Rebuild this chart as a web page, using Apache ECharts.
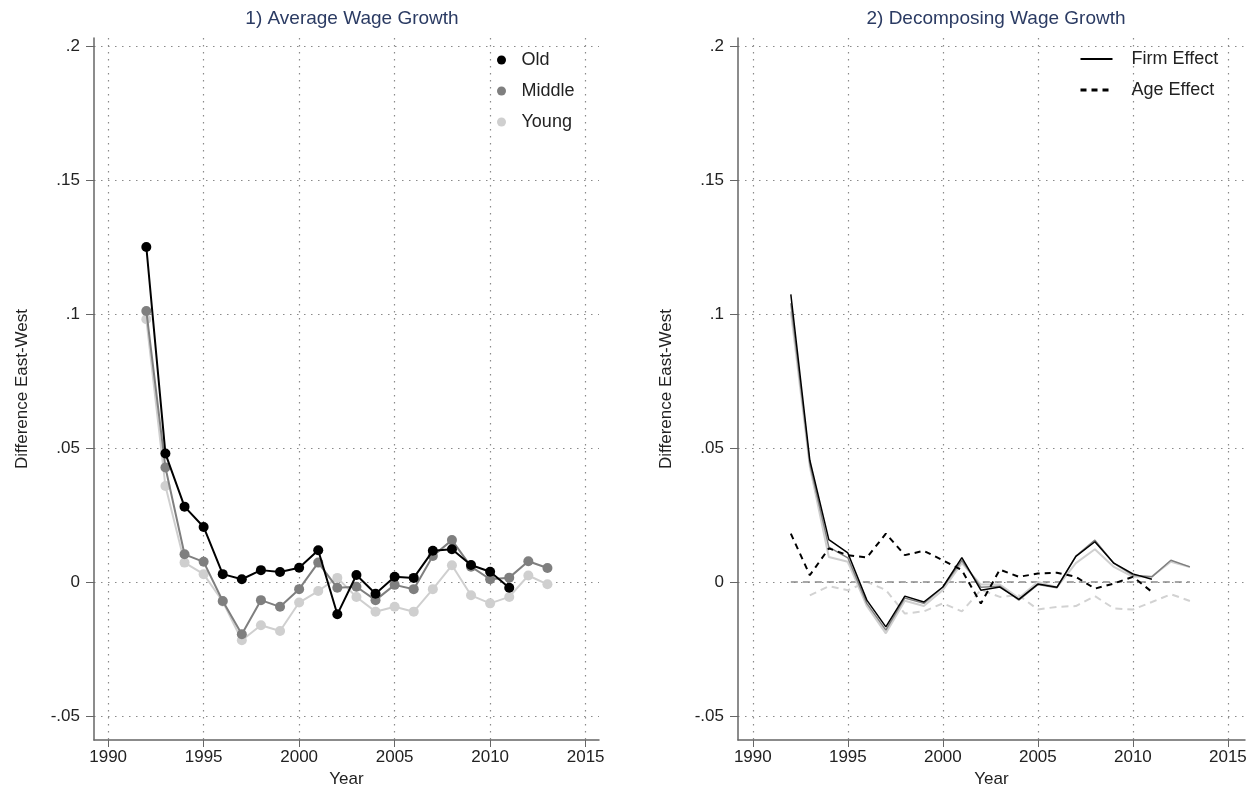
<!DOCTYPE html>
<html>
<head>
<meta charset="utf-8">
<script src="https://cdn.jsdelivr.net/npm/echarts@6/dist/echarts.min.js"></script>
<style>
  html, body { margin: 0; padding: 0; background: #fff; }
  #main { width: 1259px; height: 793px; }
</style>
</head>
<body>
<div id="main"></div>
<script>
// years on the x axis
var years = [1992, 1993, 1994, 1995, 1996, 1997, 1998, 1999, 2000, 2001, 2002,
             2003, 2004, 2005, 2006, 2007, 2008, 2009, 2010, 2011, 2012, 2013];
var xTicks = [1990, 1995, 2000, 2005, 2010, 2015];
var yTicks = [-0.05, 0, 0.05, 0.1, 0.15, 0.2];

// 1) average wage growth, difference east-west (old ends in 2011)
var wageOld = [0.125, 0.0479, 0.0281, 0.0205, 0.0029, 0.001, 0.0044, 0.0037, 0.0053, 0.0118,
               -0.0121, 0.0026, -0.0044, 0.0019, 0.0015, 0.0116, 0.0122, 0.0063, 0.0038, -0.0022];
var wageMiddle = [0.1011, 0.0427, 0.0103, 0.0075, -0.0071, -0.0195, -0.0068, -0.0093, -0.0027, 0.0072, -0.0022,
                  -0.0018, -0.0068, -0.0011, -0.0027, 0.0097, 0.0156, 0.0057, 0.001, 0.0016, 0.0077, 0.0052];
var wageYoung = [0.098, 0.0358, 0.0072, 0.0029, -0.0073, -0.0218, -0.0162, -0.0183, -0.0077, -0.0034, 0.0015,
                 -0.0056, -0.0111, -0.0093, -0.0111, -0.0027, 0.0062, -0.005, -0.008, -0.0056, 0.0024, -0.0009];

// 2) decomposition: firm effect (solid) and age effect (dashed)
var firmOld = [0.1073, 0.0454, 0.0158, 0.0108, -0.0068, -0.0168, -0.0053, -0.0075, -0.0019, 0.0091,
               -0.0031, -0.0019, -0.0065, -0.0008, -0.002, 0.0095, 0.015, 0.007, 0.003, 0.001];
var firmMiddle = [0.104, 0.044, 0.013, 0.009, -0.008, -0.018, -0.006, -0.008, -0.002, 0.008, -0.002,
                  -0.0016, -0.0068, -0.001, -0.0022, 0.0096, 0.0156, 0.0069, 0.0025, 0.0019, 0.0081, 0.0056];
var firmYoung = [0.101, 0.043, 0.0093, 0.0075, -0.009, -0.0192, -0.007, -0.009, -0.003, 0.007, -0.001,
                 -0.001, -0.006, 0.0, -0.002, 0.007, 0.0122, 0.0056, 0.0019, 0.002, 0.0075, 0.0056];
var ageOld = [0.018, 0.0025, 0.0125, 0.01, 0.0091, 0.018, 0.01, 0.0116, 0.0081, 0.0044,
              -0.0081, 0.0046, 0.0019, 0.0031, 0.0034, 0.0019, -0.0025, -0.0006, 0.0019, -0.0037];
var ageMiddle = [0, 0, 0, 0, 0, 0, 0, 0, 0, 0, 0, 0, 0, 0, 0, 0, 0, 0, 0, 0, 0, 0];
var ageYoung = [-0.005, -0.0016, -0.0031, 0.0, -0.003, -0.0118, -0.011, -0.008, -0.011, -0.003,
                -0.0056, -0.005, -0.0103, -0.0093, -0.009, -0.0053, -0.0099, -0.0103, -0.0075, -0.0046, -0.0071];

// pair values with years, starting at a given year
function pairs(arr, startYear) {
  var i0 = years.indexOf(startYear || 1992);
  return arr.map(function (v, i) { return [years[i0 + i], v]; });
}

var FONT = 'Liberation Sans, Arial, sans-serif';
var dotted = { color: '#8a8a8a', width: 1.2, type: [1.5, 5.5] };

function fmtY(v) {
  if (v === 0) return '0';
  return String(+v.toFixed(2)).replace('0.', '.');
}

function xAxis(idx, min, max) {
  return {
    type: 'value', gridIndex: idx, min: min, max: max,
    name: 'Year', nameLocation: 'middle', nameGap: 29,
    nameTextStyle: { fontFamily: FONT, fontSize: 17, color: '#222' },
    axisLine: { onZero: false, lineStyle: { color: '#666', width: 1.5 } },
    axisTick: { customValues: xTicks, length: 7, lineStyle: { color: '#666' } },
    axisLabel: { customValues: xTicks, margin: 9, fontFamily: FONT, fontSize: 17, color: '#222',
                 formatter: function (v) { return String(v); } },
    splitLine: { show: true, lineStyle: dotted }
  };
}
function yAxis(idx) {
  return {
    type: 'value', gridIndex: idx, min: -0.059, max: 0.203,
    name: 'Difference East-West', nameLocation: 'middle', nameGap: 63,
    nameTextStyle: { fontFamily: FONT, fontSize: 17, color: '#222' },
    axisLine: { show: true, onZero: false, lineStyle: { color: '#666', width: 1.5 } },
    axisTick: { show: true, customValues: yTicks, length: 8, lineStyle: { color: '#666' } },
    axisLabel: { customValues: yTicks, margin: 14, fontFamily: FONT, fontSize: 17, color: '#222',
                 formatter: fmtY },
    splitLine: { show: true, lineStyle: dotted }
  };
}

function dotLine(name, data, color, z) {
  return {
    name: name, type: 'line', xAxisIndex: 0, yAxisIndex: 0, data: data, z: z,
    symbol: 'circle', symbolSize: 10, showSymbol: true,
    itemStyle: { color: color }, lineStyle: { color: color, width: 2 },
    emphasis: { disabled: true }, animation: false
  };
}
function plainLine(name, data, color, width, type, z) {
  return {
    name: name, type: 'line', xAxisIndex: 1, yAxisIndex: 1, data: data, z: z,
    symbol: 'none', itemStyle: { color: color },
    lineStyle: { color: color, width: width, type: type },
    emphasis: { disabled: true }, animation: false
  };
}

var chart = echarts.init(document.getElementById('main'));
chart.setOption({
  backgroundColor: '#fff',
  animation: false,
  title: [
    { text: '1) Average Wage Growth', left: 347, top: 4, textAlign: 'center',
      textStyle: { fontFamily: FONT, fontSize: 19, fontWeight: 'normal', color: '#2b3b63' } },
    { text: '2) Decomposing Wage Growth', left: 991, top: 4, textAlign: 'center',
      textStyle: { fontFamily: FONT, fontSize: 19, fontWeight: 'normal', color: '#2b3b63' } }
  ],
  legend: [
    { data: ['Old', 'Middle', 'Young'], orient: 'vertical', left: 492, top: 46,
      icon: 'circle', itemWidth: 30, itemHeight: 9, itemGap: 13,
      textStyle: { fontFamily: FONT, fontSize: 18, color: '#222' }, selectedMode: false },
    { data: [{ name: 'Firm Effect', lineStyle: { width: 1.8 } },
             { name: 'Age Effect', lineStyle: { width: 3, type: [6, 5] } }],
      orient: 'vertical', left: 1074, top: 45,
      itemWidth: 32, itemHeight: 14, itemGap: 13, itemStyle: { opacity: 0 },
      textStyle: { fontFamily: FONT, fontSize: 18, color: '#222', padding: [0, 0, 0, 14] },
      selectedMode: false }
  ],
  grid: [
    { left: 94, right: 660, top: 38, bottom: 53 },
    { left: 738, right: 14, top: 38, bottom: 53 }
  ],
  xAxis: [xAxis(0, 1989.26, 2015.7), xAxis(1, 1989.22, 2015.9)],
  yAxis: [yAxis(0), yAxis(1)],
  series: [
    dotLine('Young', pairs(wageYoung), '#cfcfcf', 3),
    dotLine('Middle', pairs(wageMiddle), '#7f7f7f', 4),
    dotLine('Old', pairs(wageOld), '#000000', 5),

    plainLine('Age Effect Young', pairs(ageYoung, 1993), '#d2d2d2', 2, [7, 5], 3),
    plainLine('Age Effect Middle', pairs(ageMiddle), '#8a8a8a', 1.5, [7, 5], 3),
    plainLine('Firm Effect Young', pairs(firmYoung), '#cfcfcf', 2, 'solid', 4),
    plainLine('Firm Effect Middle', pairs(firmMiddle), '#7f7f7f', 1.5, 'solid', 4),
    plainLine('Firm Effect', pairs(firmOld), '#000000', 1.5, 'solid', 5),
    plainLine('Age Effect', pairs(ageOld), '#000000', 2, [6, 5], 5)
  ]
});
</script>
</body>
</html>
